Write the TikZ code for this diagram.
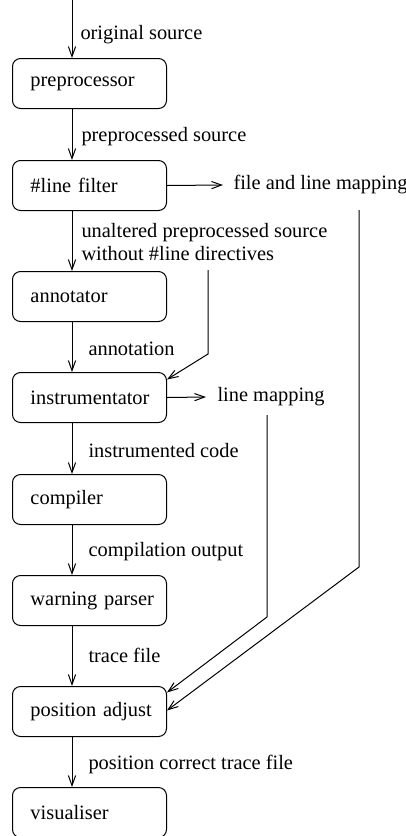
\documentclass[tikz,border=0pt]{standalone}
\usepackage{fontspec}
\setmainfont{Liberation Serif}
\usetikzlibrary{arrows.meta}

\tikzset{
  stage/.style={draw, rounded corners=4pt, minimum width=77pt, minimum height=25pt,
    text width=66pt, inner xsep=5.5pt, align=left, anchor=north west,
    execute at begin node=\hspace*{3.5pt}},
  flow/.style={-{Straight Barb[length=5pt,width=3.6pt]}},
  lbl/.style={anchor=west, inner sep=0pt, align=left},
}

\begin{document}
\begin{tikzpicture}[x=0.5pt, y=-0.5pt, line width=0.5pt,
    font=\fontsize{10.2}{11.2}\selectfont]
  \useasboundingbox (0,0) rectangle (406,836);

  % the stages, top to bottom
  \node[stage] (pre)   at (12,58)  {preprocessor};
  \node[stage] (filt)  at (12,160) {\#line filter};
  \node[stage] (ann)   at (12,271) {annotator};
  \node[stage] (instr) at (12,372) {instrumentator};
  \node[stage] (comp)  at (12,474) {compiler};
  \node[stage] (warn)  at (12,575) {warning parser};
  \node[stage] (adj)   at (12,686) {position adjust};
  \node[stage] (vis)   at (12,787) {visualiser};

  % main flow runs down this x
  \coordinate (in) at (72,0);
  \draw[flow] (in) -- (pre.north -| in);
  \foreach \a/\b in {pre/filt, filt/ann, ann/instr, instr/comp,
                     comp/warn, warn/adj, adj/vis}
    \draw[flow] (\a.south -| in) -- (\b.north -| in);

  % what flows between the stages
  \node[lbl] (src)   at (80,35)  {original source};
  \node[lbl] (ppsrc) at (81,137) {preprocessed source};
  \node[lbl] (unalt) at (81,242) {unaltered preprocessed source\\without \#line directives};
  \node[lbl] (annot) at (88,349) {annotation};
  \node[lbl] (icode) at (88,451) {instrumented code};
  \node[lbl] (cout)  at (88,552) {compilation output};
  \node[lbl] (trace) at (88,655) {trace file};
  \node[lbl] (ptrace) at (88,764) {position correct trace file};

  % side outputs
  \node[lbl] (flmap) at (233,185) {file and line mapping};
  \node[lbl] (lmap)  at (217,397) {line mapping};
  \draw[flow] (filt.east) -- ([xshift=-5pt]flmap.west);
  \draw[flow] (instr.east) -- ([xshift=-5.5pt]lmap.west);

  % lines fed back into later stages
  \coordinate (t1) at (208,270);
  \coordinate (k1) at (208,354);
  \coordinate (t2) at (267,415);
  \coordinate (k2) at (267,617);
  \coordinate (t3) at (359,210);
  \coordinate (k3) at (359,567);
  \draw[flow] (t1) -- (k1) -- ([yshift=9pt]instr.east);
  \draw[flow] (t2) -- (k2) -- ([yshift=9.5pt]adj.east);
  \draw[flow] (t3) -- (k3) -- ([yshift=0.5pt]adj.east);
\end{tikzpicture}
\end{document}
